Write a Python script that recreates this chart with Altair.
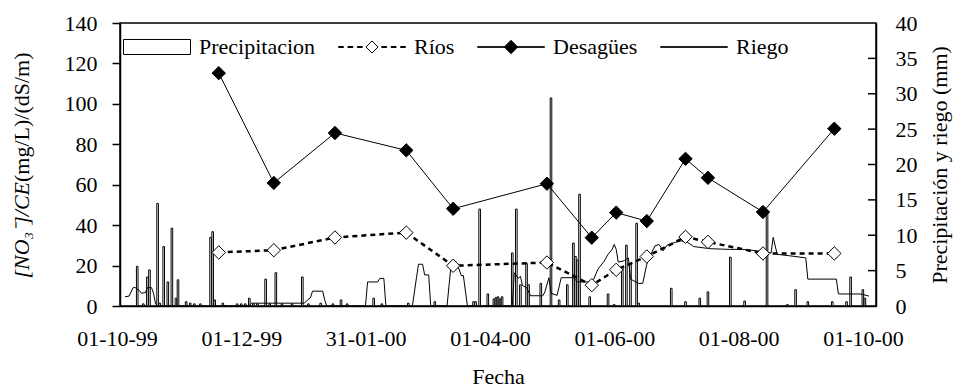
import altair as alt
import pandas as pd

# ---------------- data ----------------
sample_dates = ["1999-11-16", "1999-12-13", "2000-01-12", "2000-02-16", "2000-03-10",
                "2000-04-25", "2000-05-17", "2000-05-29", "2000-06-13", "2000-07-02",
                "2000-07-13", "2000-08-09", "2000-09-13"]
rios = [26.5, 27.6, 33.9, 36.3, 19.9, 21.5, 10.3, 17.9, 24.5, 34.2, 31.7, 26.0, 26.0]
desagues = [115.2, 60.9, 85.6, 77.0, 48.1, 60.5, 33.8, 46.2, 42.0, 72.8, 63.4, 46.5, 87.7]

precip_dates = ["1999-10-07", "1999-10-10", "1999-10-12", "1999-10-13", "1999-10-17", "1999-10-18",
                "1999-10-20", "1999-10-22", "1999-10-24", "1999-10-26", "1999-10-27", "1999-10-31",
                "1999-11-02", "1999-11-04", "1999-11-07", "1999-11-12", "1999-11-13", "1999-11-14",
                "1999-11-18", "1999-11-25", "1999-11-27", "1999-11-29", "1999-12-01", "1999-12-03",
                "1999-12-05", "1999-12-09", "1999-12-11", "1999-12-14", "1999-12-17", "1999-12-22",
                "1999-12-27", "1999-12-30", "2000-01-05", "2000-01-11", "2000-01-15", "2000-01-18",
                "2000-01-31", "2000-02-04", "2000-02-17", "2000-03-01", "2000-03-20", "2000-03-21",
                "2000-03-23", "2000-03-27", "2000-03-30", "2000-03-31", "2000-04-01", "2000-04-02",
                "2000-04-03", "2000-04-08", "2000-04-10", "2000-04-12", "2000-04-15", "2000-04-16",
                "2000-04-22", "2000-04-27", "2000-05-01", "2000-05-05", "2000-05-08", "2000-05-09",
                "2000-05-10", "2000-05-11", "2000-05-16", "2000-05-25", "2000-05-28", "2000-06-01",
                "2000-06-03", "2000-06-05", "2000-06-08", "2000-06-09", "2000-06-25", "2000-07-02",
                "2000-07-09", "2000-07-13", "2000-07-24", "2000-07-31", "2000-08-11", "2000-08-21",
                "2000-08-25", "2000-08-31", "2000-09-12", "2000-09-19", "2000-09-21", "2000-09-27",
                "2000-09-28"]
precip_mm = [5.6, 0.3, 4.1, 5.1, 14.5, 0.4,
             8.4, 3.4, 11.0, 1.1, 3.7, 0.6,
             0.4, 0.3, 0.3, 9.7, 10.5, 0.85,
             0.4, 0.3, 0.3, 0.3, 1.1, 0.3,
             0.3, 3.8, 0.3, 4.7, 0.3, 0.3,
             4.1, 0.3, 0.4, 0.3, 0.85, 0.3,
             1.1, 0.3, 0.4, 0.6, 0.6, 0.6,
             13.7, 1.7, 1.0, 1.2, 1.3, 1.0,
             1.3, 7.5, 13.7, 3.0, 6.0, 3.0,
             3.2, 29.4, 0.85, 3.0, 8.9, 7.0,
             6.5, 15.8, 1.3, 1.7, 0.2, 5.6,
             8.6, 6.0, 11.7, 0.4, 2.5, 0.6,
             1.1, 2.0, 6.9, 0.7, 13.1, 0.2,
             2.3, 0.6, 0.6, 0.6, 4.1, 2.3,
             1.1]

riego_dates = ["1999-10-01", "1999-10-03", "1999-10-05", "1999-10-06", "1999-10-08", "1999-10-09",
               "1999-10-11", "1999-10-12", "1999-10-14", "1999-10-15", "1999-10-16", "1999-10-17",
               "1999-12-01", "1999-12-02", "1999-12-28", "1999-12-29", "1999-12-31", "2000-01-01",
               "2000-01-06", "2000-01-07", "2000-01-08", "2000-01-27", "2000-01-28", "2000-02-02",
               "2000-02-03", "2000-02-05", "2000-02-06", "2000-02-19", "2000-02-21", "2000-02-22",
               "2000-02-24", "2000-02-25", "2000-02-27", "2000-02-28", "2000-03-07", "2000-03-09",
               "2000-03-12", "2000-03-14", "2000-03-15", "2000-03-17", "2000-04-08", "2000-04-09",
               "2000-04-11", "2000-04-12", "2000-04-13", "2000-04-15", "2000-04-17", "2000-04-23",
               "2000-04-24", "2000-04-26", "2000-04-27", "2000-04-30", "2000-05-02", "2000-05-08",
               "2000-05-10", "2000-05-16", "2000-05-18", "2000-05-20", "2000-05-23", "2000-05-25",
               "2000-05-27", "2000-05-28", "2000-05-29", "2000-05-30", "2000-06-02", "2000-06-04",
               "2000-06-05", "2000-06-09", "2000-06-11", "2000-06-13", "2000-06-15", "2000-06-17",
               "2000-06-19", "2000-06-21", "2000-06-23", "2000-06-27", "2000-06-30", "2000-07-03",
               "2000-07-06", "2000-07-14", "2000-07-24", "2000-07-30", "2000-08-06", "2000-08-10",
               "2000-08-13", "2000-08-14", "2000-08-16", "2000-08-22", "2000-08-30", "2000-08-31",
               "2000-09-14", "2000-09-15", "2000-09-26", "2000-09-30"]
riego_mm = [1.3, 1.4, 2.6, 2.6, 2.2, 1.8,
            1.9, 2.6, 2.6, 1.8, 0.3, 0.0,
            0.0, 0.4, 0.4, 0.7, 1.2, 2.1,
            2.1, 0.8, 0.0, 0.0, 3.4, 3.4,
            3.9, 3.9, 0.0, 0.0, 4.0, 5.9,
            5.9, 4.4, 4.4, 0.0, 0.0, 5.9,
            5.9, 4.3, 4.3, 0.0, 0.0, 4.7,
            3.9, 4.2, 2.9, 2.6, 1.45, 1.45,
            2.0, 4.0, 1.8, 1.5, 4.0, 4.0,
            3.4, 3.4, 3.8, 5.2, 6.3, 7.3,
            8.0, 8.7, 8.0, 6.2, 6.4, 6.8,
            3.8, 3.2, 3.2, 5.9, 7.3, 8.5,
            8.7, 7.8, 8.6, 9.0, 9.2, 9.0,
            8.4, 8.1, 8.0, 8.0, 7.8, 7.6,
            7.5, 9.7, 7.3, 7.1, 6.8, 3.8,
            3.8, 1.7, 1.7, 1.4]

x_tick_dates = [(1999, 10, 1), (1999, 12, 1), (2000, 1, 31), (2000, 4, 1),
                (2000, 6, 1), (2000, 8, 1), (2000, 10, 1)]
left_ticks = [0, 20, 40, 60, 80, 100, 120, 140]
right_ticks = [0, 5, 10, 15, 20, 25, 30, 35, 40]
legend_labels = ["Precipitacion", "Ríos", "Desagües", "Riego"]

# ---------------- tables ----------------
df_s = pd.DataFrame({"fecha": sample_dates, "rios": rios, "desagues": desagues})
df_p = pd.DataFrame({"fecha": precip_dates, "precip": precip_mm})
df_r = pd.DataFrame({"fecha": riego_dates, "riego": riego_mm})
df_rt = pd.DataFrame({"v": right_ticks[1:-1]})
df_leg = pd.DataFrame({"serie": legend_labels})
df_one = pd.DataFrame({"k": [0]})

FONT = "Liberation Serif"
W, H = 756, 283

def dt(t):
    return alt.DateTime(year=t[0], month=t[1], date=t[2], utc=True)

x_scale = alt.Scale(type="utc", domain=[dt((1999, 10, 1)), dt((2000, 10, 1))], nice=False)
x_axis = alt.Axis(values=[dt(t) for t in x_tick_dates],
                  labelExpr="utcFormat(datum.value, '%d-%m-%y')",
                  ticks=False, tickSize=0, labelPadding=22, labelOffset=-8,
                  labelFlush=False, labelOverlap=False, grid=False,
                  domainColor="black", domainWidth=1.5,
                  labelFont=FONT, titleFont=FONT, labelColor="black", titleColor="black",
                  labelFontSize=22, titleFontSize=22, titleFontWeight="normal",
                  titleY=77, titleBaseline="alphabetic")
X = alt.X("fecha:T", scale=x_scale, axis=x_axis, title="Fecha")

left_axis = alt.Axis(orient="left", values=left_ticks, grid=False, tickSize=8,
                     tickColor="black", tickWidth=1.5, labelPadding=15,
                     labelFont=FONT, labelColor="black",
                     labelFontSize=22, domainColor="black", domainWidth=1.5, title=None)
left_scale = alt.Scale(domain=[0, 140], nice=False)

RTITLE = "Precipitación y riego (mm)"
right_axis = alt.Axis(orient="right", values=right_ticks, grid=False, ticks=False, tickSize=0,
                      labelPadding=19, labelAlign="left", labelFontSize=22,
                      labelFont=FONT, labelColor="black",
                      domainColor="black", domainWidth=1.5,
                      title=RTITLE, titleFont=FONT, titleColor="black", titleFontWeight="normal",
                      titleAngle=270, titleX=70, titleY=H / 2,
                      titleBaseline="alphabetic", titleAlign="center", titleFontSize=22)
right_scale = alt.Scale(domain=[0, 40], nice=False)

def YL(f):
    return alt.Y(f"{f}:Q", scale=left_scale, axis=left_axis, title=None)

def YR(f):
    return alt.Y(f"{f}:Q", scale=right_scale, axis=right_axis, title=RTITLE)

# ---------------- right-axis group ----------------
bars = alt.Chart(df_p).mark_bar(size=1.6, fill="white", stroke="black", strokeWidth=1).encode(
    x=X, y=YR("precip"))
riego_line = alt.Chart(df_r).mark_line(color="black", strokeWidth=1).encode(x=X, y=YR("riego"))
rticks = alt.Chart(df_rt).mark_rule(color="black", strokeWidth=1.5).encode(
    y=YR("v"), x=alt.value(W - 8), x2=alt.value(W))
right = alt.layer(bars, riego_line, rticks)

# ---------------- left-axis group ----------------
rios_line = alt.Chart(df_s).mark_line(color="black", strokeDash=[5, 4], strokeWidth=2.5).encode(
    x=X, y=YL("rios"))
rios_pts = alt.Chart(df_s).mark_point(shape="diamond", filled=True, fill="white", stroke="black",
                                      strokeWidth=1, size=180, opacity=1).encode(x=X, y=YL("rios"))
des_line = alt.Chart(df_s).mark_line(color="black", strokeWidth=1).encode(x=X, y=YL("desagues"))
des_pts = alt.Chart(df_s).mark_point(shape="diamond", filled=True, fill="black", stroke="black",
                                     strokeWidth=1, size=180, opacity=1).encode(x=X, y=YL("desagues"))

t_it = alt.Chart(df_one).mark_text(angle=270, align="right", baseline="alphabetic", font=FONT,
                                   fontSize=22, fontStyle="italic", color="black",
                                   text="[NO\u2083\u207b]/CE").encode(
    x=alt.value(-91), y=alt.value(159))
t_rm = alt.Chart(df_one).mark_text(angle=270, align="left", baseline="alphabetic", font=FONT,
                                   fontSize=22, color="black",
                                   text="\u00a0(mg/L)/(dS/m)").encode(
    x=alt.value(-91), y=alt.value(159))

# legend (custom symbols)
sym_rect = "M-1,-0.224L1,-0.224L1,0.224L-1,0.224Z"
dash = lambda a, b: f"M{a},-0.015L{b},-0.015L{b},0.015L{a},0.015Z"
sym_rios = (dash(-1, -0.85) + dash(-0.72, -0.57) + dash(-0.44, -0.29) +
            "M-0.18,0L0,-0.18L0.18,0L0,0.18Z" +
            dash(0.29, 0.44) + dash(0.57, 0.72) + dash(0.85, 1))
sym_line = "M-1,-0.008L1,-0.008L1,0.008L-1,0.008Z"
sym_des = sym_line + "M-0.2,0L0,-0.2L0.2,0L0,0.2Z"

leg = alt.Legend(title=None, orient="none", legendX=3, legendY=-10, direction="horizontal",
                 columns=4, symbolSize=4489, symbolStrokeColor="black", symbolStrokeWidth=1,
                 labelFont=FONT, labelFontSize=22, labelColor="black", labelOffset=8,
                 columnPadding=20, padding=0, symbolOpacity=1, labelLimit=0)
legend_layer = alt.Chart(df_leg).mark_point(filled=True).encode(
    shape=alt.Shape("serie:N", scale=alt.Scale(domain=legend_labels,
                                               range=[sym_rect, sym_rios, sym_des, sym_line]),
                    legend=leg),
    fill=alt.Fill("serie:N", scale=alt.Scale(domain=legend_labels,
                                             range=["white", "white", "black", "black"]),
                  legend=leg),
    stroke=alt.Stroke("serie:N", scale=alt.Scale(domain=legend_labels,
                                                 range=["black", "black", "black", "black"]),
                      legend=leg),
).transform_filter("false")

left = alt.layer(rios_line, rios_pts, des_line, des_pts, t_it, t_rm, legend_layer)

chart = (
    alt.layer(right, left)
    .resolve_scale(y="independent")
    .properties(width=W, height=H,
                autosize=alt.AutoSizeParams(type="none"),
                padding={"left": 112, "top": 15, "right": 77, "bottom": 84})
    .configure_view(stroke="black", strokeWidth=1.5)
    .configure_axis(labelFont=FONT, titleFont=FONT, labelColor="black", titleColor="black",
                    titleFontWeight="normal")
    .configure_text(font=FONT)
    .configure_legend(labelFont=FONT)
)

chart.save("out.html", embed_options={"renderer": "svg", "actions": False})
